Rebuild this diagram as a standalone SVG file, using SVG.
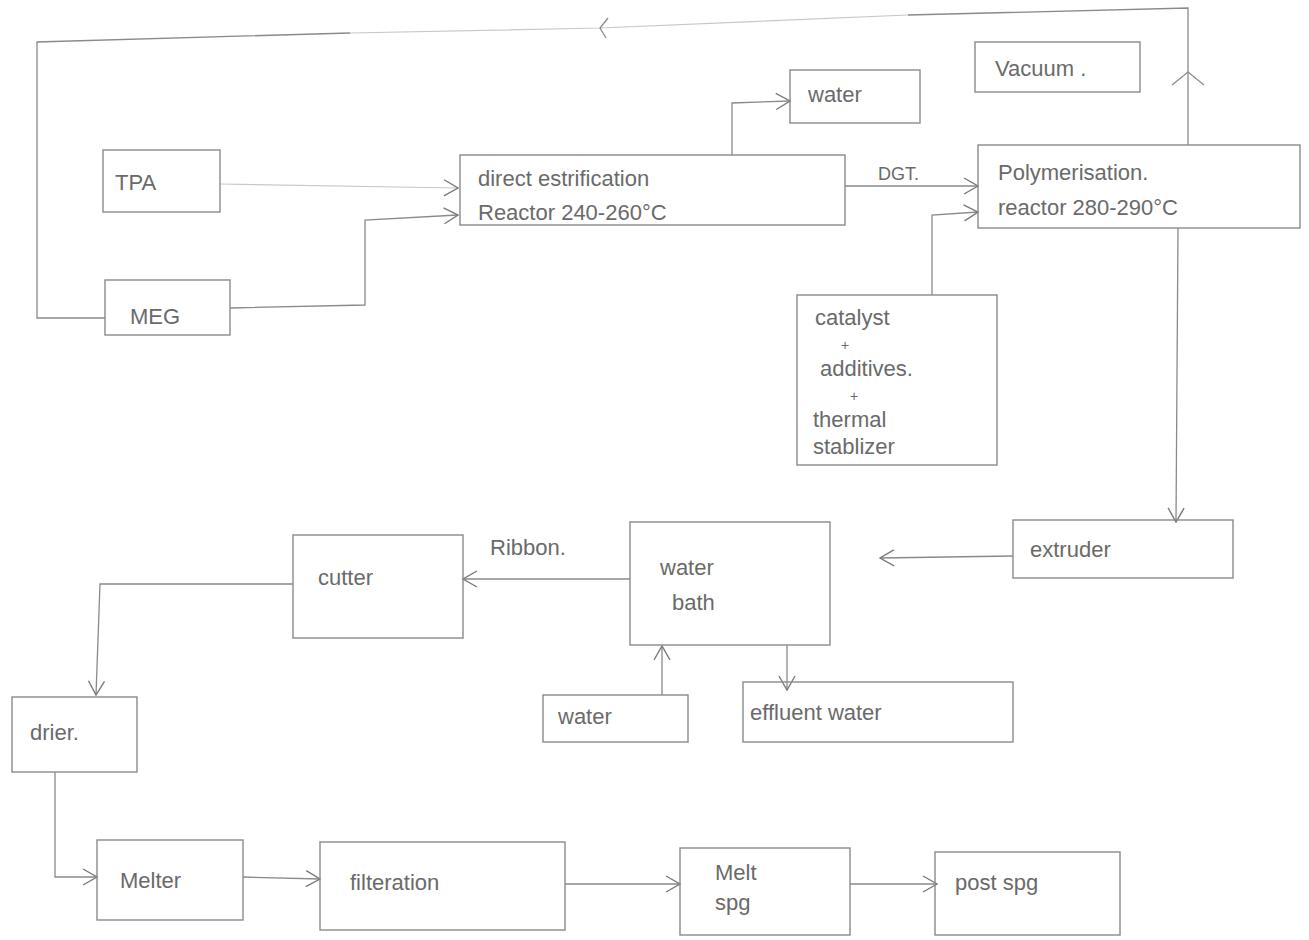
<svg xmlns="http://www.w3.org/2000/svg" width="1309" height="940" viewBox="0 0 1309 940">
<defs>
<marker id="arr" viewBox="0 0 20 20" refX="18" refY="10" markerWidth="20" markerHeight="20" markerUnits="userSpaceOnUse" orient="auto">
<polyline points="4,2 18,10 4,18" fill="none" stroke="#7a7a7a" stroke-width="1.4"/>
</marker>
</defs>
<style>
.box{fill:none;stroke:#8a8a8a;stroke-width:1.4}
.ln{fill:none;stroke:#8a8a8a;stroke-width:1.3}
.faint{fill:none;stroke:#c8c8c8;stroke-width:1.2}
.t{font-family:"Liberation Sans","DejaVu Sans",sans-serif;font-size:22px;fill:#6a6a6a}
.p{font-family:"Liberation Sans","DejaVu Sans",sans-serif;font-size:14px;fill:#6a6a6a}
</style>
<rect width="1309" height="940" fill="#ffffff"/>
<g id="connectors">
<polyline class="ln" points="1188,145 1188,8 908,15"/>
<polyline class="faint" points="908,15 600,28 350,33"/>
<polyline class="ln" points="350,33 37,42 37,318 105,318"/>
<polyline class="ln" points="1172,85 1188,72 1204,85"/>
<polyline class="ln" points="608,18 600,28 606,38"/>
<line class="faint" x1="220" y1="184" x2="458" y2="188" marker-end="url(#arr)"/>
<polyline class="ln" points="230,308 365,305 365,220 458,215" marker-end="url(#arr)"/>
<polyline class="ln" points="732,155 732,103 790,101" marker-end="url(#arr)"/>
<line class="ln" x1="845" y1="186" x2="978" y2="186" marker-end="url(#arr)"/>
<polyline class="ln" points="932,295 932,215 978,212" marker-end="url(#arr)"/>
<line class="ln" x1="1178" y1="228" x2="1176" y2="522" marker-end="url(#arr)"/>
<line class="ln" x1="1013" y1="556" x2="880" y2="558" marker-end="url(#arr)"/>
<line class="ln" x1="630" y1="579" x2="463" y2="579" marker-end="url(#arr)"/>
<polyline class="ln" points="293,584 100,584 96,695" marker-end="url(#arr)"/>
<line class="ln" x1="662" y1="695" x2="662" y2="646" marker-end="url(#arr)"/>
<line class="ln" x1="787" y1="645" x2="787" y2="690" marker-end="url(#arr)"/>
<polyline class="ln" points="55,772 55,877 97,877" marker-end="url(#arr)"/>
<line class="ln" x1="243" y1="877" x2="320" y2="879" marker-end="url(#arr)"/>
<line class="ln" x1="565" y1="884" x2="680" y2="884" marker-end="url(#arr)"/>
<line class="ln" x1="850" y1="884" x2="937" y2="884" marker-end="url(#arr)"/>
</g>
<g id="tpa"><rect class="box" x="103" y="150" width="117" height="62"/><text class="t" x="115" y="190">TPA</text></g>
<g id="meg"><rect class="box" x="105" y="280" width="125" height="55"/><text class="t" x="130" y="324">MEG</text></g>
<g id="reactor"><rect class="box" x="460" y="155" width="385" height="70"/>
<text class="t" x="478" y="186">direct estrification</text>
<text class="t" x="478" y="220">Reactor  240-260°C</text></g>
<g id="water-top"><rect class="box" x="790" y="70" width="130" height="53"/><text class="t" x="808" y="102">water</text></g>
<text class="t" x="878" y="180" style="font-size:18px">DGT.</text>
<g id="vacuum"><rect class="box" x="975" y="42" width="165" height="50"/><text class="t" x="995" y="76">Vacuum .</text></g>
<g id="polymerization"><rect class="box" x="978" y="145" width="322" height="83"/>
<text class="t" x="998" y="180">Polymerisation.</text>
<text class="t" x="998" y="215">reactor 280-290°C</text></g>
<g id="catalyst"><rect class="box" x="797" y="295" width="200" height="170"/>
<text class="t" x="815" y="325">catalyst</text>
<text class="p" x="841" y="350">+</text>
<text class="t" x="820" y="376">additives.</text>
<text class="p" x="850" y="401">+</text>
<text class="t" x="813" y="427">thermal</text>
<text class="t" x="813" y="454">stablizer</text></g>
<g id="extruder"><rect class="box" x="1013" y="520" width="220" height="58"/><text class="t" x="1030" y="557">extruder</text></g>
<g id="waterbath"><rect class="box" x="630" y="522" width="200" height="123"/>
<text class="t" x="660" y="575">water</text><text class="t" x="672" y="610">bath</text></g>
<text class="t" x="490" y="555">Ribbon.</text>
<g id="cutter"><rect class="box" x="293" y="535" width="170" height="103"/><text class="t" x="318" y="585">cutter</text></g>
<g id="drier"><rect class="box" x="12" y="697" width="125" height="75"/><text class="t" x="30" y="740">drier.</text></g>
<g id="water-bottom"><rect class="box" x="543" y="695" width="145" height="47"/><text class="t" x="558" y="724">water</text></g>
<g id="effluent"><rect class="box" x="743" y="682" width="270" height="60"/><text class="t" x="750" y="720">effluent water</text></g>
<g id="melter"><rect class="box" x="97" y="840" width="146" height="80"/><text class="t" x="120" y="888">Melter</text></g>
<g id="filteration"><rect class="box" x="320" y="842" width="245" height="88"/><text class="t" x="350" y="890">filteration</text></g>
<g id="meltspg"><rect class="box" x="680" y="848" width="170" height="87"/>
<text class="t" x="715" y="880">Melt</text><text class="t" x="715" y="910">spg</text></g>
<g id="postspg"><rect class="box" x="935" y="852" width="185" height="83"/><text class="t" x="955" y="890">post spg</text></g>
</svg>
